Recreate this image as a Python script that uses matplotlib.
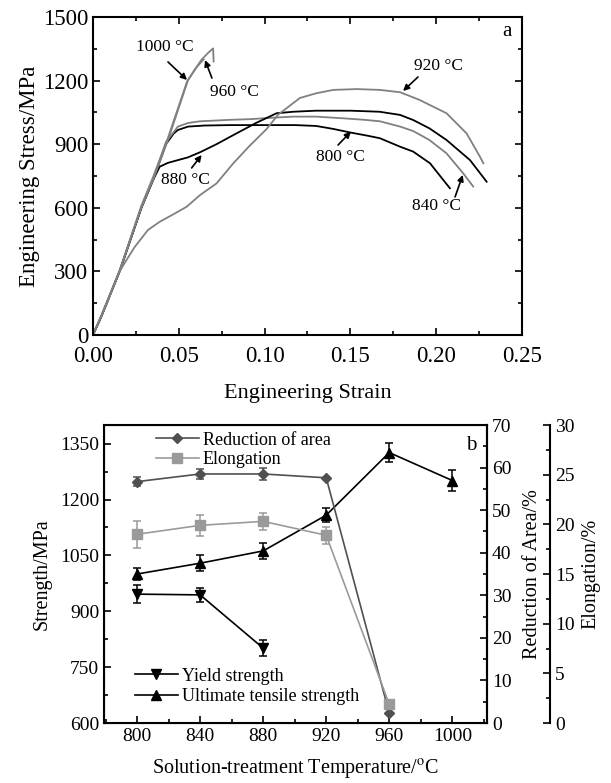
import matplotlib
matplotlib.use("Agg")
import matplotlib.pyplot as plt
from matplotlib.ticker import MultipleLocator, FormatStrFormatter
from matplotlib.lines import Line2D

plt.rcParams['font.family'] = ['Liberation Serif', 'DejaVu Serif']
plt.rcParams['mathtext.fontset'] = 'stix'

# ---------------- (a) stress-strain curves ----------------
strain_800 = [0, 0.005, 0.0155, 0.0282, 0.035, 0.0425, 0.047, 0.0495, 0.0554, 0.065, 0.08, 0.10,
              0.118, 0.13, 0.14, 0.15, 0.16, 0.1672, 0.179, 0.1866, 0.1964, 0.208]
stress_800 = [0, 90, 300, 600, 731, 900, 950, 967, 983, 988, 990, 990,
              990, 986, 972, 955, 940, 928, 888, 865, 810, 692]

strain_840 = [0, 0.005, 0.0155, 0.0282, 0.035, 0.0425, 0.0495, 0.0554, 0.0624, 0.08, 0.0915, 0.105,
              0.1167, 0.13, 0.146, 0.158, 0.1672, 0.179, 0.1866, 0.196, 0.206, 0.2158, 0.2216]
stress_840 = [0, 90, 300, 600, 731, 910, 983, 1000, 1008, 1015, 1018, 1025,
              1030, 1030, 1022, 1015, 1008, 983, 962, 920, 857, 762, 700]

strain_880 = [0, 0.005, 0.0155, 0.0282, 0.035, 0.0389, 0.0437, 0.0554, 0.0624, 0.072, 0.0818, 0.095,
              0.107, 0.1167, 0.13, 0.15, 0.167, 0.179, 0.1866, 0.196, 0.206, 0.2197, 0.2294]
stress_880 = [0, 90, 300, 600, 731, 794, 812, 838, 862, 900, 943, 1000,
              1046, 1053, 1058, 1058, 1053, 1038, 1014, 975, 920, 825, 723]

strain_920 = [0, 0.005, 0.0155, 0.0185, 0.0243, 0.032, 0.0389, 0.047, 0.0546, 0.0624, 0.072, 0.0818,
              0.091, 0.101, 0.108, 0.1206, 0.13, 0.14, 0.1537, 0.1672, 0.179, 0.19, 0.206, 0.2177,
              0.2255, 0.2275]
stress_920 = [0, 90, 300, 340, 415, 495, 534, 570, 605, 660, 715, 810,
              890, 970, 1040, 1118, 1140, 1156, 1160, 1156, 1145, 1110, 1046, 951,
              841, 810]

strain_960 = [0, 0.005, 0.0155, 0.0282, 0.035, 0.0437, 0.0554, 0.0631, 0.067, 0.070, 0.0703]
stress_960 = [0, 90, 300, 600, 731, 920, 1203, 1297, 1330, 1352, 1290]

strain_1000 = [0, 0.005, 0.0155, 0.0282, 0.035, 0.0437, 0.0548, 0.060, 0.0645]
stress_1000 = [0, 95, 305, 610, 745, 930, 1195, 1260, 1300]

# ---------------- (b) properties vs temperature ----------------
temps = [800, 840, 880, 920, 960, 1000]
yield_T = [800, 840, 880]
yield_strength = [946, 944, 801]
yield_err = [25, 19, 22]
uts = [1000, 1029, 1062, 1158, 1326, 1251]
uts_err = [16, 21, 21, 19, 25, 29]
ra_T = [800, 840, 880, 920, 960]
reduction_area = [56.7, 58.5, 58.5, 57.6, 2.3]
ra_err = [1.0, 1.1, 1.4, 0.0, 0.0]
elongation = [19.0, 19.9, 20.3, 18.9, 1.9]
el_err = [1.38, 1.06, 0.89, 0.84, 0.0]

fig = plt.figure(figsize=(6.11, 7.83), dpi=100)

GRAY = '#808080'
ax1 = fig.add_axes([0.1522, 0.5722, 0.7021, 0.4061])
ax1.plot(strain_800, stress_800, color='black', lw=1.3)
ax1.plot(strain_840, stress_840, color=GRAY, lw=1.3)
ax1.plot(strain_880, stress_880, color='black', lw=1.3)
ax1.plot(strain_920, stress_920, color=GRAY, lw=1.3)
ax1.plot(strain_960, stress_960, color=GRAY, lw=1.3)
ax1.plot(strain_1000, stress_1000, color=GRAY, lw=1.3)
ax1.set_xlim(0, 0.25)
ax1.set_ylim(0, 1500)
ax1.xaxis.set_major_locator(MultipleLocator(0.05))
ax1.xaxis.set_minor_locator(MultipleLocator(0.025))
ax1.yaxis.set_major_locator(MultipleLocator(300))
ax1.yaxis.set_minor_locator(MultipleLocator(150))
ax1.xaxis.set_major_formatter(FormatStrFormatter('%.2f'))
ax1.tick_params(which='both', direction='in', top=True, right=True, labelsize=16.5, width=1.2)
ax1.tick_params(which='major', length=5)
ax1.tick_params(which='minor', length=3)
ax1.tick_params(axis='x', which='major', pad=8)
for s in ax1.spines.values():
    s.set_linewidth(1.5)
ax1.set_xlabel('Engineering Strain', fontsize=16, labelpad=12)
ax1.set_ylabel('Engineering Stress/MPa', fontsize=16.5, labelpad=2)
ax1.text(0.975, 0.955, 'a', transform=ax1.transAxes, fontsize=15, ha='right', va='center')

ann = dict(arrowstyle='-|>', color='black', lw=1.2, mutation_scale=9, shrinkA=0, shrinkB=0)
lab_fs = 12.5
ax1.text(0.042, 1358, '1000 °C', fontsize=lab_fs, ha='center', va='center')
ax1.annotate('', xy=(0.0548, 1203), xytext=(0.0437, 1288), arrowprops=ann)
ax1.text(0.0822, 1146, '960 °C', fontsize=lab_fs, ha='center', va='center')
ax1.annotate('', xy=(0.0653, 1297), xytext=(0.0693, 1212), arrowprops=ann)
ax1.text(0.0536, 731, '880 °C', fontsize=lab_fs, ha='center', va='center')
ax1.annotate('', xy=(0.0633, 849), xytext=(0.0575, 788), arrowprops=ann)
ax1.text(0.2016, 1269, '920 °C', fontsize=lab_fs, ha='center', va='center')
ax1.annotate('', xy=(0.1807, 1151), xytext=(0.1894, 1217), arrowprops=ann)
ax1.text(0.144, 840, '800 °C', fontsize=lab_fs, ha='center', va='center')
ax1.annotate('', xy=(0.1503, 959), xytext=(0.1428, 896), arrowprops=ann)
ax1.text(0.1999, 608, '840 °C', fontsize=lab_fs, ha='center', va='center')
ax1.annotate('', xy=(0.2155, 755), xytext=(0.211, 651), arrowprops=ann)

# ---------------- bottom ----------------
ax2 = fig.add_axes([0.1702, 0.0766, 0.6268, 0.3806])
ax3 = ax2.twinx()
ax4 = ax2.twinx()
ax4.spines['right'].set_position(('axes', 1.1645))

DG = '#505050'
LG = '#9a9a9a'
cap = 3
ax2.errorbar(yield_T, yield_strength, yerr=yield_err, color='black', marker='v', ms=7,
             lw=1.2, capsize=cap, elinewidth=1.1, capthick=1.1)
ax2.errorbar(temps, uts, yerr=uts_err, color='black', marker='^', ms=7,
             lw=1.2, capsize=cap, elinewidth=1.1, capthick=1.1)
ax3.errorbar(ra_T, reduction_area, yerr=ra_err, color=DG, marker='D', ms=5.5,
             lw=1.2, capsize=cap, elinewidth=1.1, capthick=1.1)
ax4.errorbar(ra_T, elongation, yerr=el_err, color=LG, marker='s', ms=6.5,
             lw=1.2, capsize=cap, elinewidth=1.1, capthick=1.1)

ax2.set_xlim(779, 1022)
ax2.set_ylim(600, 1400)
ax3.set_ylim(0, 70)
ax4.set_ylim(0, 30)
ax2.set_xticks(temps)
ax2.xaxis.set_minor_locator(MultipleLocator(20))
ax2.yaxis.set_major_locator(MultipleLocator(150))
ax2.yaxis.set_minor_locator(MultipleLocator(75))
ax3.yaxis.set_major_locator(MultipleLocator(10))
ax3.yaxis.set_minor_locator(MultipleLocator(5))
ax4.yaxis.set_major_locator(MultipleLocator(5))
ax4.yaxis.set_minor_locator(MultipleLocator(2.5))
bfs = 14
for a in (ax2, ax3, ax4):
    a.tick_params(which='both', direction='in', labelsize=bfs, width=1.2)
    a.tick_params(which='major', length=5)
    a.tick_params(which='minor', length=3)
for s in ax2.spines.values():
    s.set_linewidth(1.5)
ax3.spines['right'].set_linewidth(1.5)
ax4.spines['right'].set_linewidth(1.5)
for s in ('top', 'left', 'bottom'):
    ax4.spines[s].set_visible(False)
lfs = 14.5
ax2.set_xlabel('Solution-treatment Temperature/$^{\\mathrm{o}}$C', fontsize=lfs, labelpad=9)
ax2.set_ylabel('Strength/MPa', fontsize=lfs, labelpad=6)
ax3.set_ylabel('Reduction of Area/%', fontsize=lfs, labelpad=8)
ax4.set_ylabel('Elongation/%', fontsize=lfs, labelpad=5)
ax4.text(0.972, 0.93, 'b', transform=ax2.transAxes, fontsize=15, ha='right', va='center')

h_ra = Line2D([], [], color=DG, marker='D', ms=5.5, lw=1.2)
h_el = Line2D([], [], color=LG, marker='s', ms=6.5, lw=1.2)
h_ys = Line2D([], [], color='black', marker='v', ms=7, lw=1.2)
h_uts = Line2D([], [], color='black', marker='^', ms=7, lw=1.2)
legfs = 13
leg1 = ax4.legend([h_ra, h_el], ['Reduction of area', 'Elongation'], loc='upper left',
                  bbox_to_anchor=(0.135, 0.978), frameon=False, fontsize=legfs, handlelength=2.4,
                  handletextpad=0.2, labelspacing=0.15, borderaxespad=0, borderpad=0)
ax4.add_artist(leg1)
ax4.legend([h_ys, h_uts], ['Yield strength', 'Ultimate tensile strength'], loc='lower left',
           bbox_to_anchor=(0.08, 0.06), frameon=False, fontsize=legfs, handlelength=2.4,
           handletextpad=0.2, labelspacing=0.2, borderaxespad=0, borderpad=0)

fig.savefig('out.png', dpi=100)
